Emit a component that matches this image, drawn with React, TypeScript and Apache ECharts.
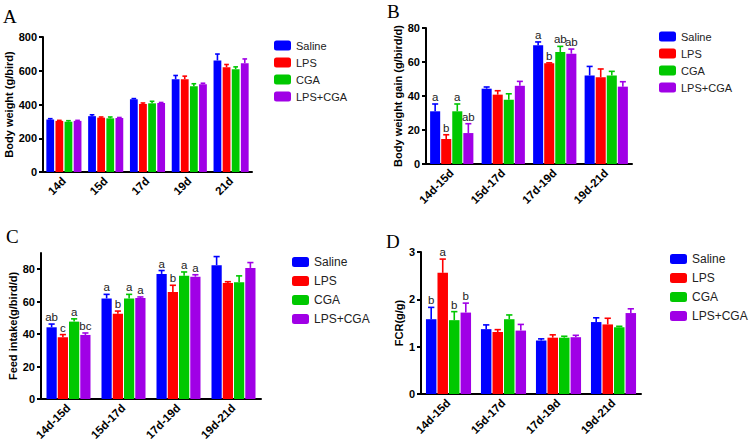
import React, { useEffect, useRef } from "react";
import * as echarts from "echarts";

const groups = ["Saline", "LPS", "CGA", "LPS+CGA"];
const colors = ["#0000FF", "#FF0000", "#00C800", "#A000E6"];

// Panel A: Body weight (g/bird)
const catsA = ["14d", "15d", "17d", "19d", "21d"];
const valsA = [
  [311, 331, 431, 550, 661],
  [303, 322, 403, 550, 621],
  [298, 318, 407, 508, 609],
  [303, 320, 409, 520, 645],
];
const errsA = [
  [5, 8, 4, 22, 38],
  [3, 4, 6, 18, 16],
  [6, 8, 12, 15, 14],
  [3, 3, 3, 6, 25],
];

// Panel B: Body weight gain (g/bird/d)
const catsB = ["14d-15d", "15d-17d", "17d-19d", "19d-21d"];
const valsB = [
  [31, 44.3, 69.8, 52.1],
  [14.7, 40.8, 59.2, 51],
  [31, 37.8, 65.9, 52.1],
  [18.2, 46, 64.9, 45.5],
];
const errsB = [
  [4.3, 1, 2, 5.3],
  [2.5, 2.3, 0.3, 4.9],
  [4.3, 3.5, 3.3, 2.4],
  [5.5, 2.6, 2.7, 2.9],
];
const lettersB = [
  ["a", "", "a", ""],
  ["b", "", "b", ""],
  ["a", "", "ab", ""],
  ["ab", "", "ab", ""],
];

// Panel C: Feed intake (g/bird/d)
const catsC = ["14d-15d", "15d-17d", "17d-19d", "19d-21d"];
const valsC = [
  [44.2, 62, 77.1, 82.5],
  [38, 52.5, 65.9, 71.5],
  [47.7, 62, 76, 71.9],
  [39.5, 62.2, 75.4, 80.8],
];
const errsC = [
  [2, 2.5, 2.1, 5.3],
  [1.7, 1.7, 4.2, 0.8],
  [1.7, 2.5, 2.3, 4],
  [1.2, 0.7, 1.2, 3.3],
];
const lettersC = [
  ["ab", "a", "a", ""],
  ["c", "b", "b", ""],
  ["a", "a", "a", ""],
  ["bc", "a", "a", ""],
];

// Panel D: FCR (g/g)
const catsD = ["14d-15d", "15d-17d", "17d-19d", "19d-21d"];
const valsD = [
  [1.58, 1.37, 1.13, 1.52],
  [2.56, 1.31, 1.19, 1.47],
  [1.56, 1.58, 1.19, 1.41],
  [1.72, 1.34, 1.2, 1.71],
];
const errsD = [
  [0.25, 0.09, 0.035, 0.09],
  [0.29, 0.05, 0.06, 0.13],
  [0.18, 0.09, 0.03, 0.02],
  [0.2, 0.13, 0.04, 0.09],
];
const lettersD = [
  ["b", "", "", ""],
  ["a", "", "", ""],
  ["b", "", "", ""],
  ["b", "", "", ""],
];

const FONT = 'Arial, "Liberation Sans", Helvetica, sans-serif';

type Panel = {
  cats: string[];
  vals: number[][];
  errs: number[][];
  letters: string[][] | null;
  grid: { left: number; top: number; width: number; height: number };
  yName: string;
  yMax: number;
  yInterval: number;
  yTicks?: number[];
  nameGap: number;
  catGap: number;
  barGap: number;
  legend: { left: number; top: number; itemGap: number; fontSize: number };
  title: { text: string; x: number; y: number };
};

const panels: Panel[] = [
  {
    cats: catsA, vals: valsA, errs: errsA, letters: null,
    grid: { left: 43, top: 37, width: 209, height: 135 },
    yName: "Body weight (g/bird)", yMax: 800, yInterval: 200, nameGap: 21,
    catGap: 0.16, barGap: 0.17,
    legend: { left: 274, top: 40, itemGap: 6, fontSize: 11 },
    title: { text: "A", x: 3, y: 7 },
  },
  {
    cats: catsB, vals: valsB, errs: errsB, letters: lettersB,
    grid: { left: 426, top: 28, width: 206, height: 136 },
    yName: "Body weight gain (g/bird/d)", yMax: 80, yInterval: 20, nameGap: 17,
    catGap: 0.16, barGap: 0.1,
    legend: { left: 659, top: 31, itemGap: 6, fontSize: 11 },
    title: { text: "B", x: 387, y: 2 },
  },
  {
    cats: catsC, vals: valsC, errs: errsC, letters: lettersC,
    grid: { left: 41, top: 253, width: 220, height: 146 },
    yName: "Feed intake(g/bird/d)", yMax: 90, yInterval: 10, yTicks: [0, 20, 40, 60, 80], nameGap: 21,
    catGap: 0.2, barGap: 0.1,
    legend: { left: 292, top: 256, itemGap: 7, fontSize: 12 },
    title: { text: "C", x: 6, y: 227 },
  },
  {
    cats: catsD, vals: valsD, errs: errsD, letters: lettersD,
    grid: { left: 421, top: 252, width: 220, height: 142 },
    yName: "FCR(g/g)", yMax: 3, yInterval: 1, nameGap: 16,
    catGap: 0.18, barGap: 0.1,
    legend: { left: 670, top: 253, itemGap: 7, fontSize: 12 },
    title: { text: "D", x: 386, y: 232 },
  },
];

function buildOption() {
  const grid: any[] = [];
  const xAxis: any[] = [];
  const yAxis: any[] = [];
  const series: any[] = [];
  const legend: any[] = [];
  const graphic: any[] = [];

  panels.forEach((p, gi) => {
    grid.push({ ...p.grid, containLabel: false });
    xAxis.push({
      type: "category",
      gridIndex: gi,
      data: p.cats,
      axisLine: { lineStyle: { color: "#000", width: 2 } },
      axisTick: { alignWithLabel: true, length: 4, lineStyle: { color: "#000", width: 2 } },
      axisLabel: {
        rotate: 45,
        margin: 7,
        color: "#000",
        fontWeight: "bold",
        fontSize: 11.5,
        fontFamily: FONT,
      },
    });
    const yA: any = {
      type: "value",
      gridIndex: gi,
      min: 0,
      max: p.yMax,
      interval: p.yInterval,
      name: p.yName,
      nameLocation: "middle",
      nameGap: p.nameGap,
      nameRotate: 90,
      nameTextStyle: { color: "#000", fontWeight: "bold", fontSize: 11, fontFamily: FONT },
      splitLine: { show: false },
      axisLine: { show: true, lineStyle: { color: "#000", width: 2 } },
      axisTick: { show: true, length: 4, lineStyle: { color: "#000", width: 2 } },
      axisLabel: { color: "#000", fontWeight: "bold", fontSize: 11, fontFamily: FONT, margin: 6 },
    };
    if (p.yTicks) {
      yA.axisLabel.customValues = p.yTicks;
      yA.axisTick.customValues = p.yTicks;
    }
    yAxis.push(yA);

    groups.forEach((g, si) => {
      series.push({
        type: "bar",
        name: g,
        xAxisIndex: gi,
        yAxisIndex: gi,
        data: p.vals[si],
        barGap: `${p.barGap * 100}%`,
        barCategoryGap: `${p.catGap * 100}%`,
        itemStyle: { color: colors[si] },
        z: 2,
      });
    });

    const items: number[][] = [];
    const itemLetters: string[] = [];
    p.cats.forEach((_, ci) => {
      groups.forEach((_, si) => {
        items.push([ci, p.vals[si][ci], p.errs[si][ci], si]);
        itemLetters.push(p.letters ? p.letters[si][ci] : "");
      });
    });
    const catGap = p.catGap;
    const barGap = p.barGap;
    series.push({
      type: "custom",
      xAxisIndex: gi,
      yAxisIndex: gi,
      data: items,
      encode: { x: 0, y: 1 },
      z: 3,
      silent: true,
      renderItem: (params: any, api: any) => {
        const c = api.value(0);
        const v = api.value(1);
        const e = api.value(2);
        const s = api.value(3);
        const band = api.size([1, 0])[0];
        const groupW = band * (1 - catGap);
        const bw = groupW / (4 + 3 * barGap);
        const base = api.coord([c, v]);
        const top = api.coord([c, v + e]);
        const x = base[0] - groupW / 2 + s * bw * (1 + barGap) + bw / 2;
        const cw = bw * 0.6;
        const col = colors[s];
        const children: any[] = [
          { type: "line", shape: { x1: x, y1: base[1], x2: x, y2: top[1] }, style: { stroke: col, lineWidth: 1.6 } },
          { type: "line", shape: { x1: x - cw / 2, y1: top[1], x2: x + cw / 2, y2: top[1] }, style: { stroke: col, lineWidth: 1.6 } },
        ];
        const letter = itemLetters[params.dataIndex];
        if (letter) {
          children.push({
            type: "text",
            style: {
              text: letter,
              x: x,
              y: top[1] - 1,
              textAlign: "center",
              textVerticalAlign: "bottom",
              fill: "#222",
              fontSize: 11.5,
              fontFamily: FONT,
            },
          });
        }
        return { type: "group", children };
      },
    });

    legend.push({
      data: groups,
      orient: "vertical",
      left: p.legend.left,
      top: p.legend.top,
      itemWidth: 17,
      itemHeight: 10,
      itemGap: p.legend.itemGap,
      icon: "roundRect",
      padding: 0,
      textStyle: { color: "#222", fontSize: p.legend.fontSize, fontFamily: FONT },
      selectedMode: false,
    });

    graphic.push({
      type: "text",
      left: p.title.x,
      top: p.title.y,
      style: {
        text: p.title.text,
        fontSize: 19,
        fontFamily: '"Liberation Serif", "Times New Roman", serif',
        fill: "#000",
      },
    });
  });

  return {
    animation: false,
    backgroundColor: "#fff",
    grid,
    xAxis,
    yAxis,
    series,
    legend,
    graphic,
  };
}

export default function App() {
  const ref = useRef<HTMLDivElement>(null);
  useEffect(() => {
    if (!ref.current) return;
    const chart = echarts.init(ref.current, undefined, { renderer: "svg" });
    chart.setOption(buildOption() as any);
    return () => chart.dispose();
  }, []);
  return (
    <div
      ref={ref}
      style={{ position: "fixed", left: 0, top: 0, width: 753, height: 447, background: "#fff" }}
    />
  );
}
